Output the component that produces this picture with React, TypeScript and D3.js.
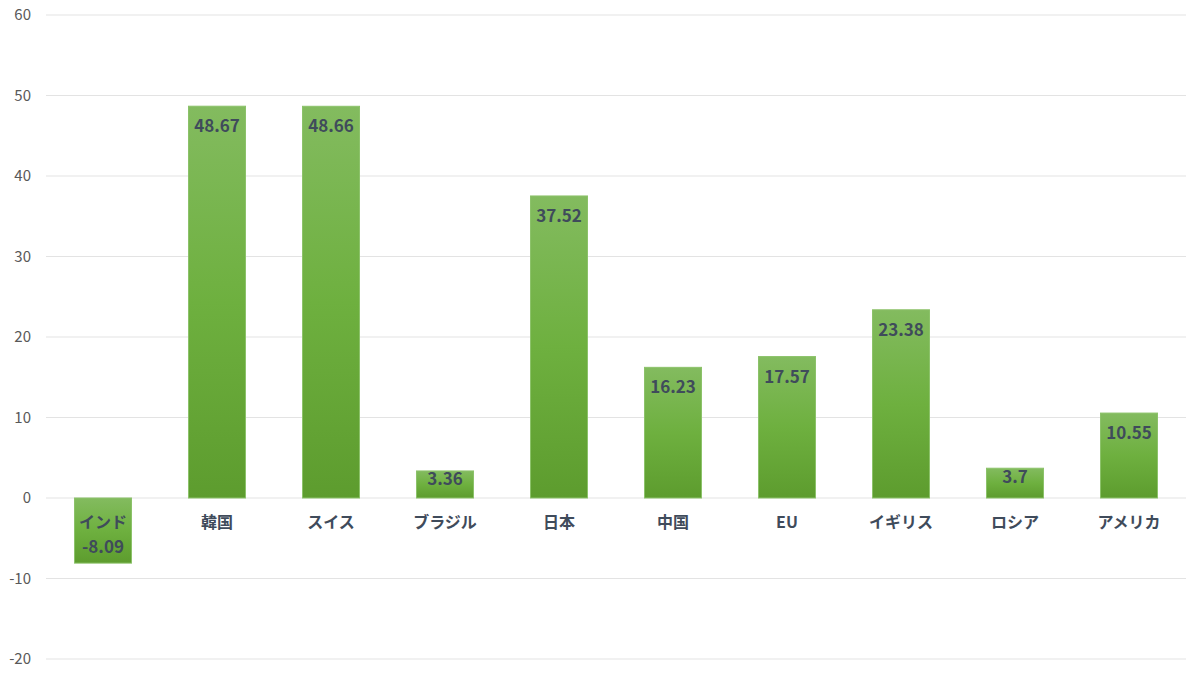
import { useEffect, useRef } from 'react';
import * as d3 from 'd3';

// 国・地域ごとの値
const categories = ['インド', '韓国', 'スイス', 'ブラジル', '日本', '中国', 'EU', 'イギリス', 'ロシア', 'アメリカ'];
const values = [-8.09, 48.67, 48.66, 3.36, 37.52, 16.23, 17.57, 23.38, 3.7, 10.55];
const yTicks = [-20, -10, 0, 10, 20, 30, 40, 50, 60];

const FONT = '"Noto Sans CJK JP", "Noto Sans", sans-serif';

export default function App() {
  const svgRef = useRef<SVGSVGElement>(null);

  useEffect(() => {
    document.body.style.margin = '0';
    if (!svgRef.current) return;

    const svg = d3.select(svgRef.current);
    svg.selectAll('*').remove();

    const width = 1200;
    const height = 675;
    const margin = { top: 15, right: 14, bottom: 16, left: 46 };

    const data = categories.map((name, i) => ({ name, value: values[i] }));

    const x = d3
      .scaleBand<string>()
      .domain(categories)
      .range([margin.left, width - margin.right])
      .paddingInner(0.5)
      .paddingOuter(0.25);

    const y = d3
      .scaleLinear()
      .domain([-20, 60])
      .range([height - margin.bottom, margin.top]);

    // グラデーション
    const defs = svg.append('defs');
    const grad = defs
      .append('linearGradient')
      .attr('id', 'barGrad')
      .attr('x1', 0)
      .attr('y1', 0)
      .attr('x2', 0)
      .attr('y2', 1);
    grad.append('stop').attr('offset', '0%').attr('stop-color', '#83bb5f');
    grad.append('stop').attr('offset', '50%').attr('stop-color', '#6eb03f');
    grad.append('stop').attr('offset', '100%').attr('stop-color', '#5d9c2e');

    // グリッド線
    svg
      .append('g')
      .selectAll('line')
      .data(yTicks)
      .enter()
      .append('line')
      .attr('x1', margin.left)
      .attr('x2', width - margin.right)
      .attr('y1', (d) => y(d))
      .attr('y2', (d) => y(d))
      .attr('stroke', '#e3e3e3')
      .attr('stroke-width', 1);

    // Y軸ラベル
    svg
      .append('g')
      .selectAll('text')
      .data(yTicks)
      .enter()
      .append('text')
      .attr('x', 31)
      .attr('y', (d) => y(d))
      .attr('dy', '0.35em')
      .attr('text-anchor', 'end')
      .attr('font-family', FONT)
      .attr('font-size', '15px')
      .attr('fill', '#595959')
      .text((d) => d);

    // 棒
    svg
      .append('g')
      .selectAll('rect')
      .data(data)
      .enter()
      .append('rect')
      .attr('x', (d) => x(d.name)!)
      .attr('y', (d) => y(Math.max(0, d.value)))
      .attr('width', x.bandwidth())
      .attr('height', (d) => Math.abs(y(d.value) - y(0)))
      .attr('fill', 'url(#barGrad)')
      .attr('stroke', '#8cc26a')
      .attr('stroke-width', 1);

    // カテゴリラベル
    svg
      .append('g')
      .selectAll('text')
      .data(data)
      .enter()
      .append('text')
      .attr('x', (d) => x(d.name)! + x.bandwidth() / 2)
      .attr('y', y(0) + 24)
      .attr('dy', '0.35em')
      .attr('text-anchor', 'middle')
      .attr('font-family', FONT)
      .attr('font-size', '16px')
      .attr('font-weight', 'bold')
      .attr('fill', '#3f4b5b')
      .text((d) => d.name);

    // 値ラベル(内側端)
    svg
      .append('g')
      .selectAll('text')
      .data(data)
      .enter()
      .append('text')
      .attr('x', (d) => x(d.name)! + x.bandwidth() / 2)
      .attr('y', (d) => {
        const h = Math.abs(y(d.value) - y(0));
        if (d.value < 0) return y(d.value) - 16;
        const off = h >= 40 ? 20 : h * 0.3;
        return y(d.value) + off;
      })
      .attr('dy', '0.35em')
      .attr('text-anchor', 'middle')
      .attr('font-family', FONT)
      .attr('font-size', '17px')
      .attr('font-weight', 'bold')
      .attr('fill', '#3f4b5b')
      .text((d) => d.value);
  }, []);

  return <svg ref={svgRef} width={1200} height={675} style={{ display: 'block', background: '#fff' }} />;
}
